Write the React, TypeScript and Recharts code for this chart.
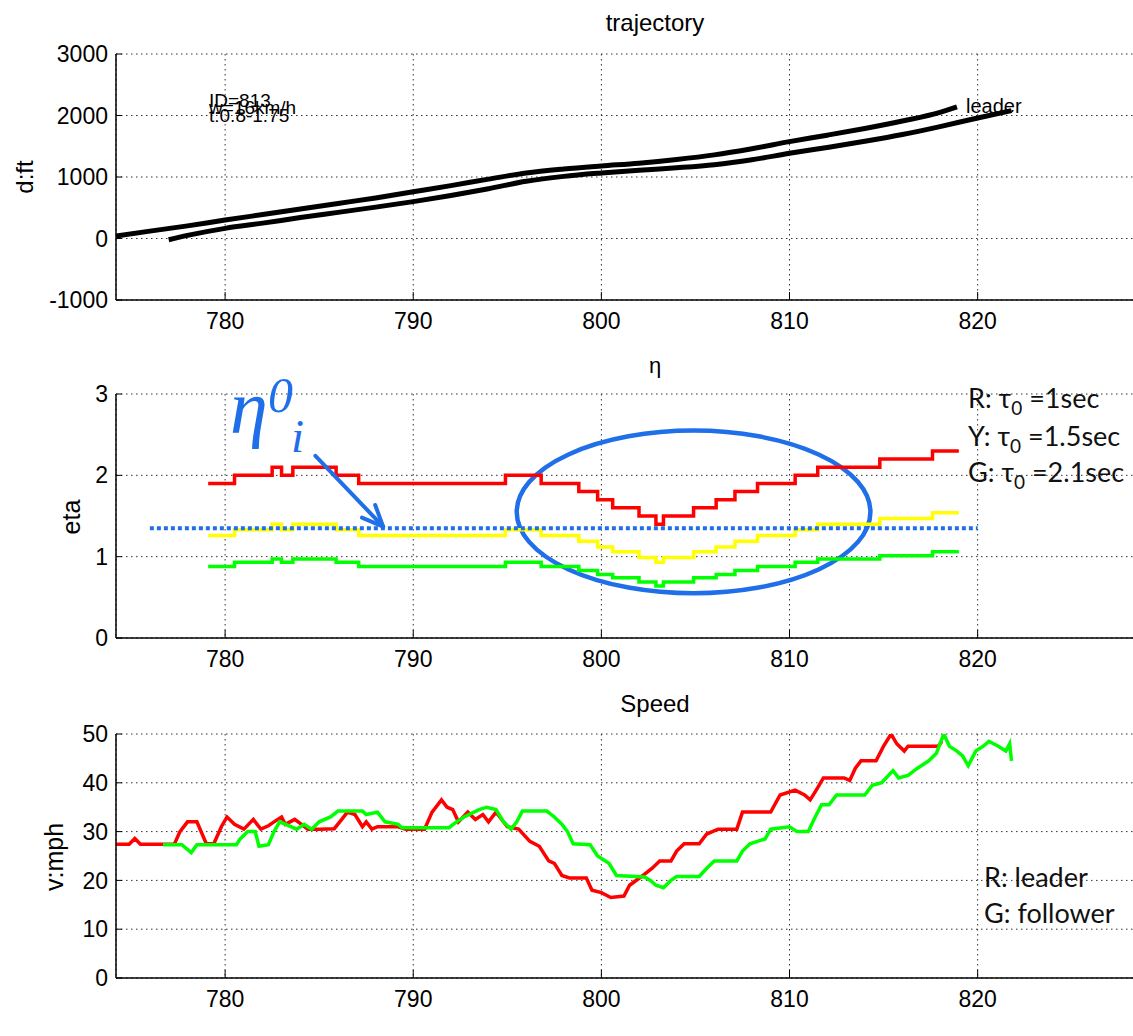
import React from 'react';
import {
  LineChart,
  Line,
  XAxis,
  YAxis,
  CartesianGrid,
  ReferenceLine,
  ReferenceArea,
} from 'recharts';

// shared x axis (time)
const xTicks = [780, 790, 800, 810, 820];
const xDomain: [number, number] = [774.2, 831.5];

// trajectory panel: [t, d(ft)]
const leaderDist: [number, number][] = [
  [774.2, 40], [776, 120], [778, 205], [780, 300], [782, 390], [784, 480],
  [786, 570], [788, 660], [790, 760], [792, 860], [794, 965], [796, 1065],
  [798, 1130], [800, 1180], [802, 1225], [804, 1285], [806, 1360], [808, 1460],
  [810, 1575], [812, 1680], [814, 1790], [816, 1910], [818, 2050], [818.9, 2140],
];
const followerDist: [number, number][] = [
  [777, -20], [778, 50], [780, 165], [782, 250], [784, 340], [786, 425],
  [788, 510], [790, 600], [792, 700], [794, 810], [796, 930], [798, 1010],
  [800, 1065], [802, 1110], [804, 1150], [806, 1200], [808, 1280], [810, 1385],
  [812, 1480], [814, 1580], [816, 1690], [818, 1820], [820, 1960], [821.8, 2080],
];
const distTicks = [-1000, 0, 1000, 2000, 3000];

// eta panel: step breakpoints and levels for three tau0 values
const etaT = [
  779.1, 780.5, 782.5, 783.0, 783.6, 785.9, 787.1, 794.9, 796.8, 798.8, 799.8, 800.6,
  802.0, 802.9, 803.3, 804.9, 806.1, 807.1, 808.3, 810.3, 811.5, 814.8, 817.6, 819.0,
];
const etaRed = [
  1.9, 2.0, 2.1, 2.0, 2.1, 2.0, 1.9, 2.0, 1.9, 1.8, 1.7, 1.6,
  1.5, 1.4, 1.5, 1.6, 1.7, 1.8, 1.9, 2.0, 2.1, 2.2, 2.3, 2.3,
];
const etaYellow = [
  1.26, 1.33, 1.4, 1.33, 1.4, 1.33, 1.26, 1.33, 1.26, 1.19, 1.12, 1.06,
  0.99, 0.93, 0.99, 1.06, 1.12, 1.19, 1.26, 1.33, 1.4, 1.47, 1.54, 1.54,
];
const etaGreen = [
  0.88, 0.93, 0.97, 0.93, 0.97, 0.93, 0.88, 0.93, 0.88, 0.83, 0.78, 0.74,
  0.69, 0.64, 0.69, 0.74, 0.78, 0.83, 0.88, 0.93, 0.97, 1.01, 1.06, 1.06,
];
const etaRef = 1.35;
const etaRefSpan = [776, 820];
const etaTicks = [0, 1, 2, 3];

// speed panel: [t, v(mph)]
const leaderSpeed: [number, number][] = [
  [774.2, 27.4], [774.9, 27.4], [775.2, 28.6], [775.5, 27.4], [777.3, 27.4], [777.6, 30],
  [778.0, 32], [778.5, 32], [779.0, 27.5], [779.4, 27.5], [779.8, 31], [780.1, 33],
  [780.5, 31.5], [781.0, 30.5], [781.5, 32.5], [781.9, 30.5], [782.3, 31.2], [782.6, 32],
  [783.0, 33], [783.2, 31.5], [783.7, 32.5], [784.4, 30.5], [785.0, 30.5], [785.8, 30.6],
  [786.2, 32.5], [786.5, 34], [786.9, 33.5], [787.3, 31], [787.5, 32], [787.8, 30.5],
  [788.1, 31], [789.2, 31], [789.6, 30.5], [790.6, 30.5], [791.0, 34], [791.5, 36.5],
  [791.8, 35], [792.1, 34.5], [792.4, 32], [792.9, 34], [793.3, 32.5], [793.7, 33.5],
  [794.0, 32], [794.4, 34], [794.6, 33], [795.0, 31], [795.6, 30.5], [796.2, 28],
  [796.7, 27], [797.2, 24], [797.5, 23.5], [797.9, 21], [798.3, 20.5], [799.2, 20.5],
  [799.5, 18], [800.0, 17.5], [800.5, 16.5], [801.2, 16.8], [801.5, 19], [802.2, 21],
  [802.7, 22.5], [803.1, 24], [803.7, 24], [804.0, 26], [804.4, 27.5], [805.2, 27.5],
  [805.6, 29.5], [806.2, 30.5], [807.2, 30.5], [807.5, 34], [809.0, 34], [809.5, 37.5],
  [810.3, 38.5], [810.8, 37.5], [811.1, 36.5], [811.5, 39], [811.8, 41], [812.9, 41],
  [813.2, 40.5], [813.5, 43], [813.8, 44.5], [814.6, 44.5], [815.0, 47.5], [815.4, 50],
  [815.7, 48], [816.1, 46.5], [816.3, 47.5], [817.9, 47.5], [818.1, 48.5],
];
const followerSpeed: [number, number][] = [
  [776.7, 27.3], [777.7, 27.3], [778.2, 25.7], [778.5, 27.3], [780.6, 27.3], [780.8, 28.5],
  [781.2, 30], [781.6, 30], [781.8, 27], [782.3, 27.3], [782.6, 30], [782.9, 32],
  [783.5, 31], [783.8, 30.5], [784.2, 31.5], [784.6, 30.5], [785.0, 32], [785.6, 33],
  [786.0, 34.2], [787.3, 34.2], [787.5, 33.5], [788.1, 34], [788.5, 32], [789.2, 31.5],
  [789.4, 30.8], [791.9, 30.8], [792.3, 32], [792.7, 33], [793.5, 34.5], [793.9, 35],
  [794.4, 34.5], [794.8, 32], [795.2, 30.5], [795.5, 32], [795.8, 34.2], [797.1, 34.2],
  [797.5, 33], [797.9, 31.5], [798.2, 30], [798.5, 27.5], [799.4, 27.3], [799.8, 25],
  [800.4, 23.5], [800.8, 21], [802.3, 20.7], [802.6, 20], [802.9, 19], [803.3, 18.5],
  [803.7, 20], [804.0, 20.8], [805.2, 20.8], [805.6, 22.5], [806.0, 24], [807.2, 24],
  [807.5, 26], [807.9, 27.5], [808.7, 28.5], [809.0, 30.5], [810.0, 31], [810.4, 30],
  [811.0, 30], [811.3, 32.5], [811.7, 35.5], [812.1, 35.5], [812.5, 37.5], [814.0, 37.5],
  [814.4, 39.5], [814.9, 40], [815.5, 42.5], [815.8, 41], [816.3, 41.5], [816.8, 43],
  [817.4, 44.5], [817.8, 46], [818.2, 50], [818.5, 47.5], [818.9, 46.5], [819.2, 45.5],
  [819.5, 43.5], [819.9, 46.5], [820.3, 47.5], [820.6, 48.5], [821.1, 47.5], [821.5, 46.5],
  [821.7, 48], [821.8, 44.5],
];
const speedTicks = [0, 10, 20, 30, 40, 50];

const toPoints = (arr: [number, number][]) => arr.map(([x, y]) => ({ x, y }));
const etaPoints = (vals: number[]) => etaT.map((x, i) => ({ x, y: vals[i] }));

const SANS = 'Arial, "Liberation Sans", sans-serif';
const CAL = 'Lato, "Open Sans", sans-serif';
const BLUE = '#1f6fe8';
const W = 1200;

const tickStyle = { fill: '#000', fontSize: 23, fontFamily: SANS };

const xAxisProps = {
  type: 'number' as const,
  dataKey: 'x',
  domain: xDomain,
  ticks: xTicks,
  allowDataOverflow: true,
  interval: 0 as const,
  tick: tickStyle,
  tickSize: -8,
  tickMargin: 21,
  height: 30,
  axisLine: { stroke: '#000', strokeWidth: 1.5 },
  tickLine: { stroke: '#000' },
};

const yAxisProps = {
  type: 'number' as const,
  dataKey: 'y',
  width: 116,
  allowDataOverflow: true,
  interval: 0 as const,
  tick: tickStyle,
  tickSize: -6,
  tickMargin: 14,
  axisLine: { stroke: '#000', strokeWidth: 1.5 },
  tickLine: { stroke: '#000' },
};

const Grid = () => (
  <CartesianGrid stroke="#333" strokeDasharray="1.5 3.5" strokeWidth={1} />
);

const Ellipse = (p: any) => (
  <ellipse
    cx={p.x + p.width / 2}
    cy={p.y + p.height / 2}
    rx={p.width / 2}
    ry={p.height / 2}
    fill="none"
    stroke={BLUE}
    strokeWidth={4.5}
  />
);

const Arrow = (p: any) => {
  const { x1, y1, x2, y2 } = p;
  const a = Math.atan2(y2 - y1, x2 - x1);
  const L = 23;
  const w = 0.41;
  return (
    <g stroke={BLUE} strokeWidth={4} strokeLinecap="round" fill="none">
      <line x1={x1} y1={y1} x2={x2} y2={y2} />
      <line x1={x2} y1={y2} x2={x2 - L * Math.cos(a - w)} y2={y2 - L * Math.sin(a - w)} />
      <line x1={x2} y1={y2} x2={x2 - L * Math.cos(a + w)} y2={y2 - L * Math.sin(a + w)} />
    </g>
  );
};

const abs = (top: number): React.CSSProperties => ({ position: 'absolute', left: 0, top });

export default function App() {
  return (
    <div
      style={{
        position: 'fixed',
        left: 0,
        top: 0,
        width: 1133,
        height: 1036,
        overflow: 'hidden',
        background: '#fff',
      }}
    >
      {/* trajectory */}
      <div style={abs(0)}>
        <LineChart width={W} height={340} margin={{ top: 54, right: 6, bottom: 10, left: 0 }}>
          <Grid />
          <XAxis {...xAxisProps} />
          <YAxis {...yAxisProps} domain={[-1000, 3000]} ticks={distTicks} />
          <Line data={toPoints(leaderDist)} dataKey="y" type="monotone" stroke="#000" strokeWidth={5} dot={false} activeDot={false} isAnimationActive={false} />
          <Line data={toPoints(followerDist)} dataKey="y" type="monotone" stroke="#000" strokeWidth={5} dot={false} activeDot={false} isAnimationActive={false} />
        </LineChart>
      </div>

      {/* eta */}
      <div style={abs(340)}>
        <LineChart width={W} height={340} margin={{ top: 54, right: 6, bottom: 12, left: 0 }}>
          <Grid />
          <XAxis {...xAxisProps} />
          <YAxis {...yAxisProps} domain={[0, 3]} ticks={etaTicks} />
          <Line data={etaPoints(etaRed)} dataKey="y" type="stepAfter" stroke="#ff0000" strokeWidth={3.5} dot={false} activeDot={false} isAnimationActive={false} />
          <Line data={etaPoints(etaYellow)} dataKey="y" type="stepAfter" stroke="#ffff00" strokeWidth={3.5} dot={false} activeDot={false} isAnimationActive={false} />
          <Line data={etaPoints(etaGreen)} dataKey="y" type="stepAfter" stroke="#00ff00" strokeWidth={3.5} dot={false} activeDot={false} isAnimationActive={false} />
          <ReferenceLine
            segment={[{ x: etaRefSpan[0], y: etaRef }, { x: etaRefSpan[1], y: etaRef }]}
            stroke={BLUE}
            strokeWidth={4}
            strokeDasharray="4 3"
          />
          <ReferenceArea x1={795.5} x2={814.3} y1={0.55} y2={2.55} shape={Ellipse} />
          <ReferenceLine segment={[{ x: 784.8, y: 2.24 }, { x: 788.4, y: 1.37 }]} shape={Arrow} />
        </LineChart>
      </div>

      {/* speed */}
      <div style={abs(680)}>
        <LineChart width={W} height={356} margin={{ top: 54, right: 6, bottom: 28, left: 0 }}>
          <Grid />
          <XAxis {...xAxisProps} />
          <YAxis {...yAxisProps} domain={[0, 50]} ticks={speedTicks} />
          <Line data={toPoints(leaderSpeed)} dataKey="y" type="linear" stroke="#ff0000" strokeWidth={3.5} dot={false} activeDot={false} isAnimationActive={false} />
          <Line data={toPoints(followerSpeed)} dataKey="y" type="linear" stroke="#00ff00" strokeWidth={3.5} dot={false} activeDot={false} isAnimationActive={false} />
        </LineChart>
      </div>

      {/* titles, axis labels and notes */}
      <svg
        width={1133}
        height={1036}
        style={{ position: 'absolute', left: 0, top: 0, pointerEvents: 'none' }}
      >
        <g fontFamily={SANS} fill="#000" textAnchor="middle">
          <text x={655} y={31} fontSize={24}>trajectory</text>
          <text x={655} y={373} fontSize={22}>η</text>
          <text x={655} y={712} fontSize={24}>Speed</text>
          <text transform="translate(33,177) rotate(-90)" fontSize={24}>d:ft</text>
          <text transform="translate(80,517) rotate(-90)" fontSize={25}>eta</text>
          <text transform="translate(63,857) rotate(-90)" fontSize={25}>v:mph</text>
        </g>
        <g fontFamily={SANS} fill="#000" fontSize={19}>
          <text x={209} y={107}>ID=813</text>
          <text x={209} y={114}>w=16km/h</text>
          <text x={209} y={122}>t:0.8-1.75</text>
          <text x={966} y={113} fontSize={20}>leader</text>
        </g>
        <g fontFamily={CAL} fill="#111" fontSize={27}>
          <text x={968} y={408}>
            R: τ<tspan fontSize={19} dy={7}>0</tspan>
            <tspan dy={-7}> =1sec</tspan>
          </text>
          <text x={968} y={446}>
            Y: τ<tspan fontSize={19} dy={7}>0</tspan>
            <tspan dy={-7}> =1.5sec</tspan>
          </text>
          <text x={968} y={482}>
            G: τ<tspan fontSize={19} dy={7}>0</tspan>
            <tspan dy={-7}> =2.1sec</tspan>
          </text>
          <text x={984} y={887}>R: leader</text>
          <text x={984} y={923}>G: follower</text>
        </g>
        <g fontFamily='"Liberation Serif", "DejaVu Serif", serif' fontStyle="italic" fill={BLUE}>
          <text x={230} y={433} fontSize={76}>η</text>
          <text x={268} y={412} fontSize={50}>0</text>
          <text x={291} y={452} fontSize={47}>i</text>
        </g>
      </svg>
    </div>
  );
}
